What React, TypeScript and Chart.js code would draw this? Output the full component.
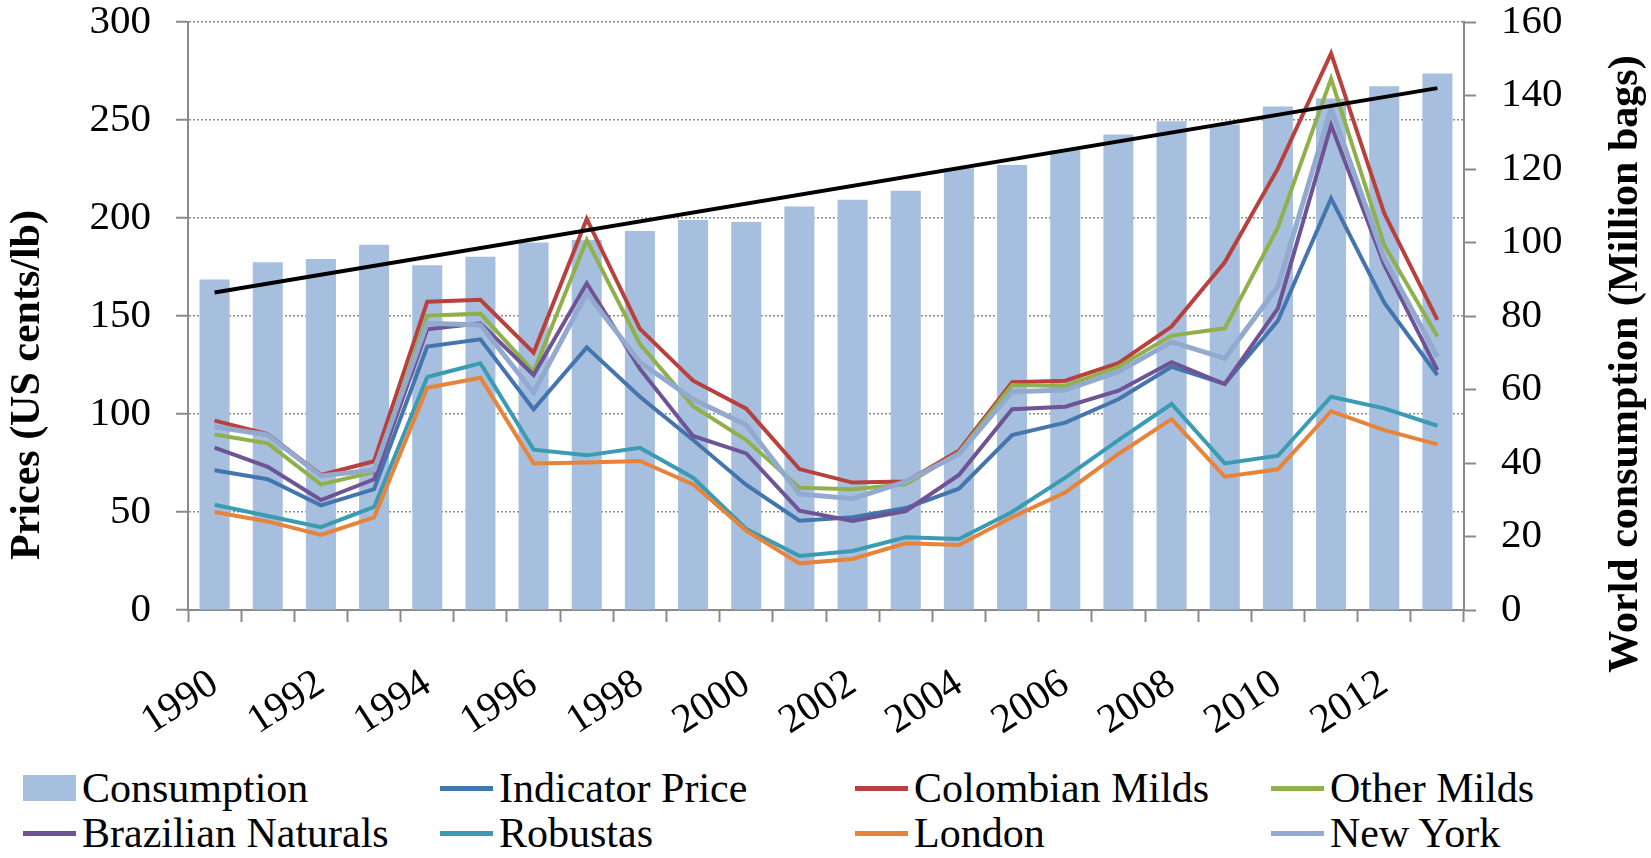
import React, { useEffect, useRef } from 'react';
import { Chart, registerables } from 'chart.js';

Chart.register(...registerables);

const YEARS = ['1990','1991','1992','1993','1994','1995','1996','1997','1998','1999','2000','2001','2002','2003','2004','2005','2006','2007','2008','2009','2010','2011','2012','2013'];

const CONSUMPTION = [89.9, 94.6, 95.5, 99.4, 93.8, 96.1, 100.0, 100.7, 103.1, 106.1, 105.6, 109.8, 111.6, 114.1, 120.2, 121.1, 125.1, 129.4, 133.0, 132.1, 137.0, 139.2, 142.5, 146.0];
const TREND = [86.4, null, null, null, null, null, null, null, null, null, null, null, null, null, null, null, null, null, null, null, null, null, null, 142.0];

const INDICATOR = [71.3, 66.7, 53.4, 61.7, 134.4, 138.1, 102.4, 134.0, 108.8, 86.7, 63.8, 45.6, 47.3, 52.0, 61.9, 89.3, 95.6, 107.5, 124.1, 115.3, 147.6, 210.0, 156.8, 119.9];
const COLOMBIAN = [96.6, 89.8, 68.9, 75.9, 157.3, 158.3, 131.3, 199.5, 143.4, 117.0, 102.7, 71.9, 65.0, 65.5, 81.3, 116.2, 117.0, 125.9, 144.6, 177.4, 225.3, 284.0, 202.4, 148.0];
const OTHER_MILDS = [89.5, 85.0, 64.1, 70.4, 150.2, 151.2, 121.6, 188.8, 135.7, 104.0, 86.7, 62.4, 61.6, 64.1, 80.3, 114.8, 114.3, 124.1, 140.0, 143.7, 195.2, 271.1, 186.2, 139.5];
const BRAZILIAN = [82.8, 73.0, 56.1, 66.7, 143.2, 146.3, 119.9, 166.7, 123.0, 88.8, 79.9, 50.7, 45.4, 50.5, 68.9, 102.4, 103.7, 111.9, 126.4, 115.3, 153.9, 247.4, 176.0, 122.4];
const ROBUSTAS = [53.7, 48.0, 42.3, 52.6, 118.9, 125.9, 81.8, 78.9, 82.8, 67.5, 41.3, 27.6, 30.1, 37.1, 36.2, 50.0, 67.5, 86.7, 105.1, 74.8, 78.7, 108.8, 102.9, 94.0];
const LONDON = [50.0, 45.2, 38.3, 47.3, 113.4, 118.5, 74.8, 75.2, 76.0, 64.1, 40.5, 23.8, 26.0, 34.0, 33.2, 47.3, 60.0, 79.6, 97.4, 68.0, 71.8, 101.4, 91.8, 84.5];
const NEW_YORK = [93.5, 89.3, 68.4, 71.4, 146.3, 145.4, 110.9, 161.6, 126.4, 107.5, 94.4, 59.2, 56.8, 65.5, 79.6, 111.4, 112.2, 121.6, 136.8, 128.4, 165.0, 256.0, 179.4, 129.3];

const LEFT_TITLE = 'Prices (US cents/lb)';
const RIGHT_TITLE = 'World consumption (Million bags)';

const COLORS = {
  consumption: '#A7BFDE',
  indicator: '#4475AE',
  colombian: '#B8413D',
  other: '#8FB04A',
  brazilian: '#6E5494',
  robustas: '#3A9BB2',
  london: '#E7843A',
  newYork: '#93AAD0',
  trend: '#000000',
};

const PRICE_SERIES = [
  { label: 'Indicator Price', data: INDICATOR, color: COLORS.indicator, order: 7, width: 4 },
  { label: 'Colombian Milds', data: COLOMBIAN, color: COLORS.colombian, order: 6, width: 4 },
  { label: 'Other Milds', data: OTHER_MILDS, color: COLORS.other, order: 5, width: 4 },
  { label: 'Brazilian Naturals', data: BRAZILIAN, color: COLORS.brazilian, order: 4, width: 4 },
  { label: 'Robustas', data: ROBUSTAS, color: COLORS.robustas, order: 3, width: 4 },
  { label: 'London', data: LONDON, color: COLORS.london, order: 2, width: 4 },
  { label: 'New York', data: NEW_YORK, color: COLORS.newYork, order: 1, width: 5 },
];

const LEGEND_ITEMS = [
  { label: 'Consumption', color: COLORS.consumption, kind: 'box' },
  ...PRICE_SERIES.map(s => ({ label: s.label, color: s.color, kind: 'line' })),
];

const W = 1651;
const H = 740;
const PLOT_LEFT = 188;
const PLOT_RIGHT = 1464;
const PLOT_TOP = 22;
const PLOT_BOTTOM = 610;
const FONT = '"Liberation Serif", "Times New Roman", serif';
const AXIS_COLOR = '#8a8a8a';

const titlePlugin = {
  id: 'rotatedAxisTitles',
  afterDraw(chart: any) {
    const ctx = chart.ctx as CanvasRenderingContext2D;
    ctx.save();
    ctx.font = `bold 42px ${FONT}`;
    ctx.fillStyle = '#000';
    ctx.textAlign = 'center';
    ctx.textBaseline = 'alphabetic';
    ctx.save();
    ctx.translate(38.5, 385);
    ctx.rotate(-Math.PI / 2);
    ctx.fillText(LEFT_TITLE, 0, 0);
    ctx.restore();
    ctx.save();
    ctx.translate(1637, 364);
    ctx.rotate(-Math.PI / 2);
    ctx.fillText(RIGHT_TITLE, 0, 0);
    ctx.restore();
    ctx.restore();
  },
};

export default function App() {
  const ref = useRef<HTMLCanvasElement>(null);

  useEffect(() => {
    if (!ref.current) return;
    const chart = new Chart(ref.current, {
      type: 'bar',
      data: {
        labels: YEARS,
        datasets: [
          {
            type: 'line',
            label: 'Trend',
            data: TREND as any,
            yAxisID: 'y1',
            borderColor: COLORS.trend,
            borderWidth: 4,
            pointRadius: 0,
            spanGaps: true,
            tension: 0,
            order: 0,
          } as any,
          ...PRICE_SERIES.map(s => ({
            type: 'line',
            label: s.label,
            data: s.data,
            yAxisID: 'y',
            borderColor: s.color,
            backgroundColor: s.color,
            borderWidth: s.width,
            pointRadius: 0,
            tension: 0,
            order: s.order,
          })) as any,
          {
            type: 'bar',
            label: 'Consumption',
            data: CONSUMPTION,
            yAxisID: 'y1',
            backgroundColor: COLORS.consumption,
            borderWidth: 0,
            categoryPercentage: 1,
            barPercentage: 0.565,
            order: 10,
          } as any,
        ],
      },
      options: {
        responsive: false,
        animation: false,
        layout: { padding: { top: PLOT_TOP, left: 0, right: 0, bottom: 0 } },
        plugins: {
          legend: { display: false },
          tooltip: { enabled: false },
          title: { display: false },
        },
        scales: {
          x: {
            type: 'category',
            offset: true,
            grid: {
              display: true,
              offset: true,
              drawOnChartArea: false,
              drawTicks: true,
              tickLength: 12,
              tickColor: AXIS_COLOR,
              tickWidth: 2,
            },
            border: { display: true, color: AXIS_COLOR, width: 2 },
            ticks: {
              autoSkip: false,
              maxRotation: 33,
              minRotation: 33,
              padding: 38,
              color: '#000',
              font: { family: FONT, size: 41 },
              callback: function (this: any, _v: any, idx: number) {
                return idx % 2 === 0 ? YEARS[idx] : '';
              },
            },
            afterFit(s: any) {
              s.height = H - PLOT_BOTTOM;
              s.paddingLeft = 0;
              s.paddingRight = 0;
            },
          },
          y: {
            position: 'left',
            min: 0,
            max: 300,
            grid: {
              display: true,
              drawOnChartArea: true,
              drawTicks: true,
              tickLength: 12,
              color: '#8c8c8c',
              lineWidth: 1.5,
              tickColor: AXIS_COLOR,
              tickWidth: 2,
              tickBorderDash: [],
            },
            border: { display: true, color: AXIS_COLOR, width: 2, dash: [2, 2] },
            ticks: {
              stepSize: 50,
              padding: 25,
              color: '#000',
              font: { family: FONT, size: 41 },
            },
            afterFit(s: any) {
              s.width = PLOT_LEFT;
              s.paddingTop = 0;
              s.paddingBottom = 0;
            },
          },
          y1: {
            position: 'right',
            min: 0,
            max: 160,
            grid: {
              display: true,
              drawOnChartArea: false,
              drawTicks: true,
              tickLength: 12,
              tickColor: AXIS_COLOR,
              tickWidth: 2,
            },
            border: { display: true, color: AXIS_COLOR, width: 2 },
            ticks: {
              stepSize: 20,
              padding: 25,
              color: '#000',
              font: { family: FONT, size: 41 },
            },
            afterFit(s: any) {
              s.width = W - PLOT_RIGHT;
              s.paddingTop = 0;
              s.paddingBottom = 0;
            },
          },
        },
      } as any,
      plugins: [titlePlugin],
    });
    return () => chart.destroy();
  }, []);

  const colX = [23, 440, 855, 1271];
  const rowY = [788, 833];

  return (
    <div style={{ position: 'fixed', left: 0, top: 0, width: W, height: 858, background: '#fff', overflow: 'hidden' }}>
      <canvas ref={ref} width={W} height={H} style={{ position: 'absolute', left: 0, top: 0, width: W, height: H }} />
      {LEGEND_ITEMS.map((item, i) => {
        const col = i % 4;
        const row = Math.floor(i / 4);
        const cx = colX[col];
        const cy = rowY[row];
        return (
          <div key={item.label} style={{ position: 'absolute', left: cx, top: cy - 23, height: 46, display: 'flex', alignItems: 'center' }}>
            {item.kind === 'box' ? (
              <div style={{ width: 53, height: 26, background: item.color, position: 'absolute', left: 0, top: 10 }} />
            ) : (
              <div style={{ width: 53, height: 5, background: item.color, position: 'absolute', left: 0, top: 20.5 }} />
            )}
            <span style={{ position: 'absolute', left: 59, top: 0, whiteSpace: 'nowrap', fontFamily: FONT, fontSize: 42, lineHeight: '46px', color: '#000' }}>
              {item.label}
            </span>
          </div>
        );
      })}
    </div>
  );
}
